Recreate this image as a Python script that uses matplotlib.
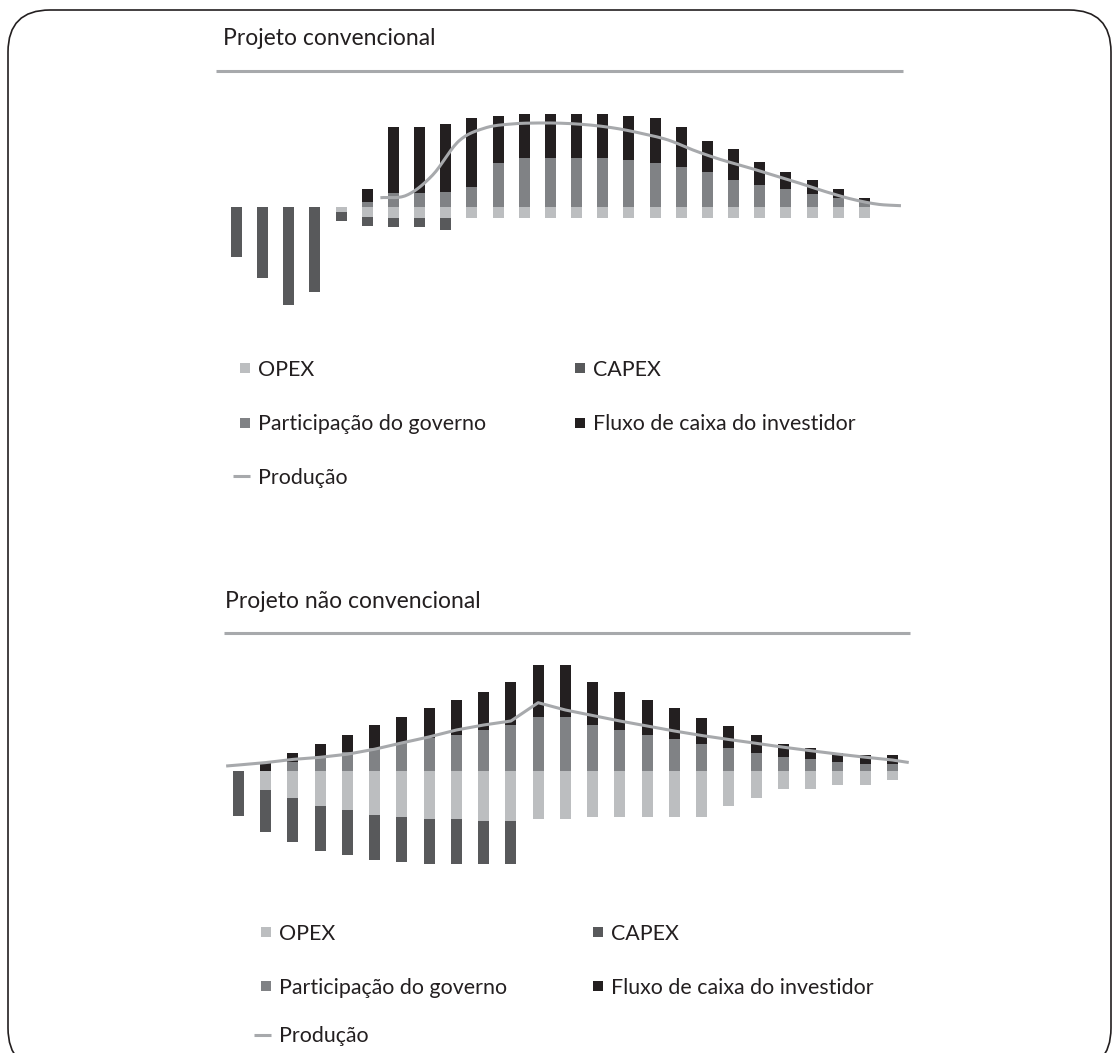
import numpy as np
import matplotlib
matplotlib.use("Agg")
import matplotlib.pyplot as plt
from matplotlib.lines import Line2D
from matplotlib.patches import Rectangle, FancyBboxPatch

plt.rcParams['font.family'] = ['Lato', 'DejaVu Sans']

W, H = 1118, 1053

# cores
C_OPEX = '#bcbec0'
C_CAPEX = '#58595b'
C_GOV = '#808285'
C_INV = '#231f20'
C_PROD = '#a7a9ac'
C_RULE = '#a7a9ac'

# --- Projeto convencional (25 anos) ---
opex_conv = [0, 0, 0, 0, 5.3, 10, 11, 11, 11, 11, 11, 11, 11, 11, 11, 11, 11,
             11, 11, 11, 11, 11, 11, 11, 11]
capex_conv = [50, 71, 98, 85, 8.7, 9.3, 9.3, 9.3, 12.3, 0, 0, 0, 0, 0, 0, 0, 0,
              0, 0, 0, 0, 0, 0, 0, 0]
gov_conv = [0, 0, 0, 0, 0, 4.7, 14, 14, 15, 19.7, 44, 48.7, 48.7, 48.7, 48.7,
            46.7, 43.7, 39.7, 34.7, 26.7, 21.7, 17.7, 12.7, 8.7, 4.7]
inv_conv = [0, 0, 0, 0, 0, 13, 66, 66, 67.7, 69, 46.7, 44, 44, 44, 44, 44, 45,
            40, 31, 31, 23, 17, 14, 9, 4]
prod_conv_x = [5.5, 6.5, 7.5, 8.5, 9.5, 10.5, 11.5, 12.5, 13.5, 14.5, 15.5,
               16.5, 17.5, 18.5, 19.5, 20.5, 21.5, 22.5, 23.5, 24.5, 25.4]
prod_conv = [9.3, 11.7, 32, 66, 79, 83, 84, 83.7, 82, 78.7, 73.5, 67, 56.5,
             47.5, 40, 32, 24, 15.5, 8, 2.8, 1.3]

# --- Projeto não convencional ---
opex_nc = [0, 19, 27.3, 35, 39.3, 44, 46.7, 48.7, 48.7, 50.7, 50.7, 48, 48.5,
           46, 46, 46, 46, 46, 35, 27, 18, 18, 14, 14, 9]
capex_nc = [45.3, 42.7, 43.7, 45, 44.7, 45, 45, 45, 45, 43, 43, 0, 0, 0, 0, 0,
            0, 0, 0, 0, 0, 0, 0, 0, 0]
gov_nc = [0, 0, 9, 14, 18.7, 22.7, 27.3, 32.3, 35.3, 40.3, 45.3, 54, 54, 45.3,
          40.3, 35.3, 31.3, 26.3, 23, 18, 14, 12, 9, 7, 7]
inv_nc = [0, 8.7, 8.7, 12.7, 17, 23, 25.7, 29.7, 34.7, 37.7, 42.7, 51.7, 51.7,
          42.7, 37.7, 34.7, 30.7, 25.7, 21.7, 17.7, 12.7, 10.7, 8.7, 8.7, 8.7]
prod_nc_x = [-0.45, 0, 1, 2, 3, 4, 5, 6, 7, 8, 9, 10, 11, 12, 13, 14, 15, 16,
             17, 18, 19, 20, 21, 22, 23, 24, 24.6]
prod_nc = [4.5, 5.5, 7.9, 11.1, 13.2, 16.3, 21.3, 27.6, 33.6, 40.5, 45.5, 49.5,
           67.8, 60.5, 55, 49.5, 44.5, 39.5, 35, 31, 27.2, 23.3, 19.8, 16.4,
           13.3, 10.5, 8]

legend_labels = ['OPEX', 'CAPEX', 'Participação do governo',
                 'Fluxo de caixa do investidor', 'Produção']

TITLE_SIZE = 16.5
LEGEND_SIZE = 15.4


def smooth(x, y, n=16):
    """Catmull-Rom pelos pontos dados (linha suavizada)."""
    x = np.asarray(x, float)
    y = np.asarray(y, float)
    px = np.concatenate([[2 * x[0] - x[1]], x, [2 * x[-1] - x[-2]]])
    py = np.concatenate([[2 * y[0] - y[1]], y, [2 * y[-1] - y[-2]]])
    t = np.linspace(0, 1, n, endpoint=False)
    xs, ys = [], []
    for i in range(1, len(px) - 2):
        for arr, out in ((px, xs), (py, ys)):
            p0, p1, p2, p3 = arr[i - 1:i + 3]
            seg = 0.5 * (2 * p1 + (-p0 + p2) * t
                         + (2 * p0 - 5 * p1 + 4 * p2 - p3) * t ** 2
                         + (-p0 + 3 * p1 - 3 * p2 + p3) * t ** 3)
            out.extend(seg)
    xs.append(x[-1])
    ys.append(y[-1])
    return xs, ys


def add_axes_px(fig, left, top, right, bottom):
    return fig.add_axes([left / W, 1 - bottom / H,
                         (right - left) / W, (bottom - top) / H])


def draw_bars(ax, opex, capex, gov, inv, width):
    x = np.arange(len(opex))
    opex = np.array(opex)
    gov = np.array(gov)
    # custos para baixo, receitas para cima
    ax.bar(x, -opex, width, color=C_OPEX, linewidth=0)
    ax.bar(x, -np.array(capex), width, bottom=-opex, color=C_CAPEX, linewidth=0)
    ax.bar(x, gov, width, color=C_GOV, linewidth=0)
    ax.bar(x, inv, width, bottom=gov, color=C_INV, linewidth=0)
    ax.axis('off')


def draw_header(fig, title, x_text, baseline, x0, x1, y_rule):
    fig.text(x_text / W, 1 - baseline / H, title, fontsize=TITLE_SIZE,
             color='#231f20', va='baseline', ha='left')
    fig.add_artist(Line2D([x0 / W, x1 / W], [1 - y_rule / H] * 2,
                          transform=fig.transFigure, color=C_RULE,
                          linewidth=2.2, solid_capstyle='butt'))


def draw_legend(fig, x_col1, x_col2, rows):
    colors = [C_OPEX, C_CAPEX, C_GOV, C_INV]
    slots = [(x_col1, rows[0]), (x_col2, rows[0]),
             (x_col1, rows[1]), (x_col2, rows[1])]
    for (x, y), c, lab in zip(slots, colors, legend_labels[:4]):
        fig.add_artist(Rectangle(((x - 18) / W, 1 - (y + 5) / H), 10 / W, 10 / H,
                                 transform=fig.transFigure, color=c, lw=0))
        fig.text(x / W, 1 - (y + 7.5) / H, lab, fontsize=LEGEND_SIZE,
                 color='#231f20', va='baseline', ha='left')
    y = rows[2]
    fig.add_artist(Line2D([(x_col1 - 25) / W, (x_col1 - 8) / W], [1 - y / H] * 2,
                          transform=fig.transFigure, color=C_PROD,
                          linewidth=2.2, solid_capstyle='butt'))
    fig.text(x_col1 / W, 1 - (y + 7.5) / H, legend_labels[4],
             fontsize=LEGEND_SIZE, color='#231f20', va='baseline', ha='left')


fig = plt.figure(figsize=(W / 100, H / 100), dpi=100)

# moldura arredondada (a borda de baixo fica fora da figura)
fig.add_artist(FancyBboxPatch((0.08, -0.17), 11.03, 10.60,
                              boxstyle='round,pad=0,rounding_size=0.42',
                              transform=fig.dpi_scale_trans, fill=False,
                              edgecolor='#231f20', linewidth=1.2))

# gráfico de cima
step, x0 = 26.16, 236.5
ax1 = add_axes_px(fig, 216, 100, 910, 320)
draw_bars(ax1, opex_conv, capex_conv, gov_conv, inv_conv, 11 / step)
sx, sy = smooth(prod_conv_x, prod_conv)
ax1.plot(sx, sy, color=C_PROD, linewidth=2.2, solid_capstyle='butt')
ax1.set_xlim((216 - x0) / step, (910 - x0) / step)
ax1.set_ylim(-(320 - 207), 207 - 100)

draw_header(fig, 'Projeto convencional', 223, 45, 216, 903, 70.5)
draw_legend(fig, 258, 593, [368, 423, 476])

# gráfico de baixo
step, x0 = 27.25, 238.4
ax2 = add_axes_px(fig, 216, 655, 915, 880)
draw_bars(ax2, opex_nc, capex_nc, gov_nc, inv_nc, 11 / step)
ax2.plot(prod_nc_x, prod_nc, color=C_PROD, linewidth=2.2,
         solid_capstyle='butt', solid_joinstyle='round')
ax2.set_xlim((216 - x0) / step, (915 - x0) / step)
ax2.set_ylim(-(880 - 770.5), 770.5 - 655)

draw_header(fig, 'Projeto não convencional', 225, 608, 224, 910, 633)
draw_legend(fig, 279, 611, [932, 986, 1035])

fig.savefig('out.png', dpi=100)
